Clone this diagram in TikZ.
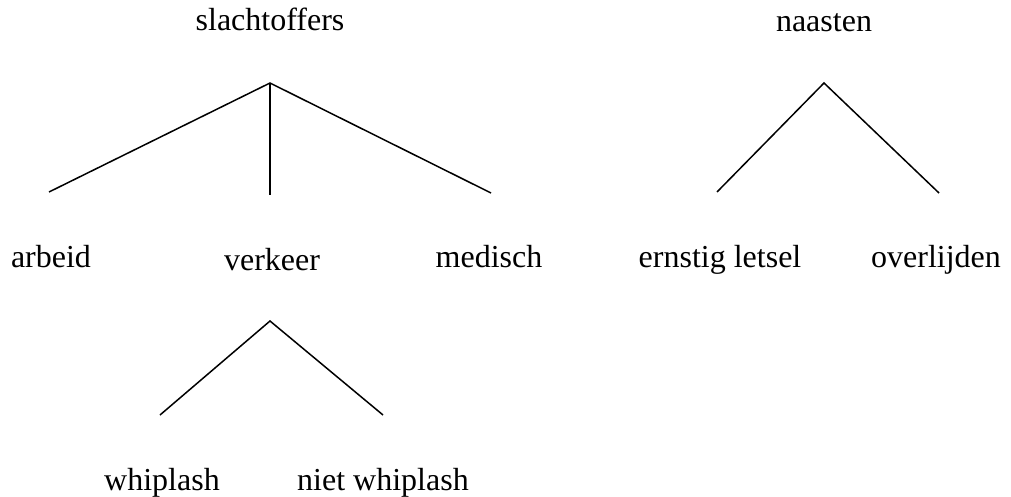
\documentclass[tikz,border=0pt]{standalone}
\usepackage{fontspec}
\setmainfont{Liberation Serif}
\begin{document}
\begin{tikzpicture}[x=1pt,y=-1pt,
  lbl/.style={anchor=base,inner sep=0pt,font=\fontsize{32}{34}\selectfont},
  edge/.style={line width=1.5pt,black}]
\useasboundingbox (0,0) rectangle (1011,497);
% labels
\node[lbl] (slacht) at (270,31) {slachtoffers};
\node[lbl] (naasten) at (824,32) {naasten};
\node[lbl] (arbeid) at (51,267) {arbeid};
\node[lbl] (verkeer) at (272,270) {verkeer};
\node[lbl] (medisch) at (489,267) {medisch};
\node[lbl] (ernstig) at (720,267) {ernstig letsel};
\node[lbl] (overl) at (936,267) {overlijden};
\node[lbl] (whip) at (162,490) {whiplash};
\node[lbl] (niet) at (383,490) {niet whiplash};
% coordinates of the tree lines
\coordinate (s0) at (270,83);
\coordinate (s1) at (49,192);
\coordinate (s2) at (270,195);
\coordinate (s3) at (491,193);
\coordinate (n0) at (824,83);
\coordinate (n1) at (717,192);
\coordinate (n2) at (939,193);
\coordinate (v0) at (270,321);
\coordinate (v1) at (160,415);
\coordinate (v2) at (383,415);
\draw[edge] (s1) -- (s0) -- (s3);
\draw[edge] (s0) -- (s2);
\draw[edge] (n1) -- (n0) -- (n2);
\draw[edge] (v1) -- (v0) -- (v2);
\end{tikzpicture}
\end{document}
